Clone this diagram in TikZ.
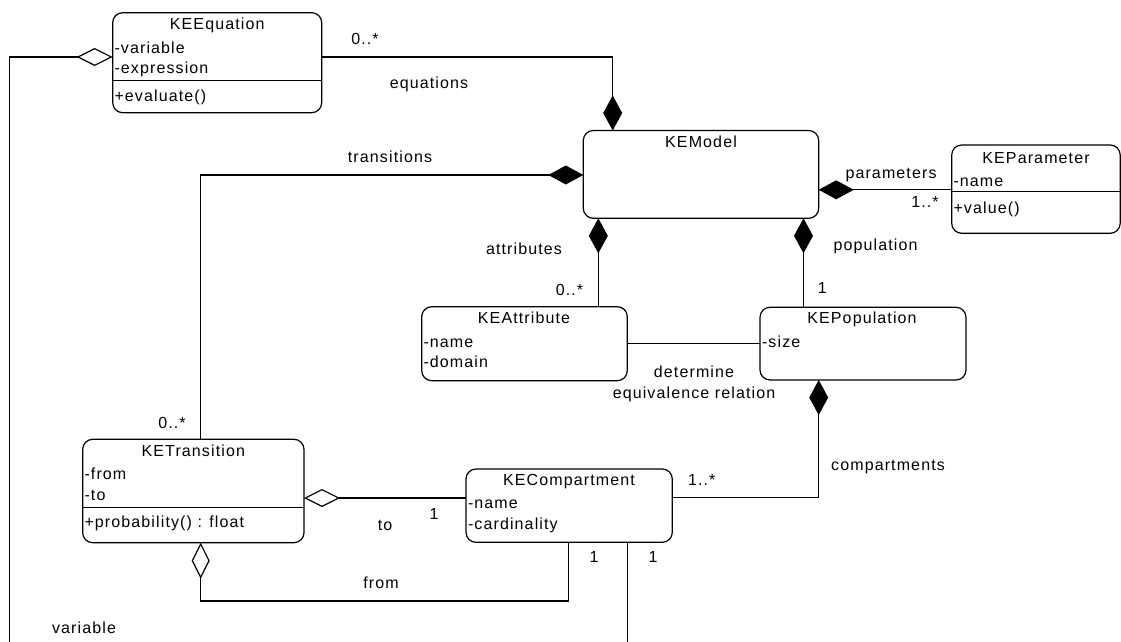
\documentclass[tikz,border=0pt]{standalone}
\usepackage{fontspec}
\setmainfont{Liberation Sans}[LetterSpace=7]
\usetikzlibrary{arrows.meta}
\tikzset{
  umlbox/.style={draw, line width=1.2pt, rounded corners=10pt, anchor=north west, inner sep=0pt, outer sep=0pt},
  conn/.style={line width=1.2pt},
  txt/.style={inner sep=0pt, outer sep=0pt, font=\fontsize{16}{19}\selectfont, text height=12.5pt, text depth=1.5pt, anchor=center},
  attrtxt/.style={txt, anchor=west},
  filld/.tip={Diamond[length=35pt,width=19pt]},
  hollowd/.tip={Diamond[open,length=36pt,width=18pt]}
}
\begin{document}
\begin{tikzpicture}[x=1pt,y=-1pt]
\useasboundingbox (0,0) rectangle (1121,642);
% boxes
\node[umlbox, minimum width=209pt, minimum height=100pt] (eq) at (112.7,12.7) {};
\node[umlbox, minimum width=235.4pt, minimum height=87.8pt] (model) at (583.3,130.5) {};
\node[umlbox, minimum width=168.5pt, minimum height=88.3pt] (param) at (951.7,145) {};
\node[umlbox, minimum width=205.6pt, minimum height=74pt] (attr) at (421.7,306.7) {};
\node[umlbox, minimum width=206pt, minimum height=72.7pt] (pop) at (760,307.3) {};
\node[umlbox, minimum width=206.3pt, minimum height=73.3pt] (comp) at (466,469) {};
\node[umlbox, minimum width=221.3pt, minimum height=103.4pt] (trans) at (82.7,439.3) {};
% separators
\draw[conn] (eq.west |- 0,80.3) -- (eq.east |- 0,80.3);
\draw[conn] (param.west |- 0,191.7) -- (param.east |- 0,191.7);
\draw[conn] (trans.west |- 0,507.7) -- (trans.east |- 0,507.7);
% titles
\node[txt] (eqT) at (217.2,24) {KEEquation};
\node[txt] (modelT) at (701,141.7) {KEModel};
\node[txt] (paramT) at (1036,158.3) {KEParameter};
\node[txt] (attrT) at (524,318.3) {KEAttribute};
\node[txt] (popT) at (862,318.3) {KEPopulation};
\node[txt] (compT) at (569,480) {KECompartment};
\node[txt] (transT) at (193.3,450.7) {KETransition};
% members
\node[attrtxt] (eqA1) at (114.5,47.7) {-variable};
\node[attrtxt] (eqA2) at (114.5,68) {-expression};
\node[attrtxt] (eqM1) at (114.5,95.7) {+evaluate()};
\node[attrtxt] (paramA1) at (953.5,180.7) {-name};
\node[attrtxt] (paramM1) at (953.5,207.7) {+value()};
\node[attrtxt] (attrA1) at (423.5,341.7) {-name};
\node[attrtxt] (attrA2) at (423.5,361.7) {-domain};
\node[attrtxt] (popA1) at (762,342.3) {-size};
\node[attrtxt] (compA1) at (468,503.3) {-name};
\node[attrtxt] (compA2) at (468,524) {-cardinality};
\node[attrtxt] (transA1) at (84.5,474.3) {-from};
\node[attrtxt] (transA2) at (84.5,495) {-to};
\node[attrtxt] (transM1) at (84.5,521.7) {+probability() : float};
% free ends
\coordinate (varEnd) at (9.8,645);
\coordinate (compEnd) at (627.3,645);
% connectors
\draw[conn, -{filld}] (eq.east |- 0,57) -| (model.north -| 612.7,0);
\draw[conn, {hollowd}-] (eq.west |- 0,57) -| (varEnd);
\draw[conn, {filld}-] (model.west |- 0,175) -| (trans.north -| 200.7,0);
\draw[conn, {filld}-] (model.south -| 598.3,0) -- (attr.north -| 598.3,0);
\draw[conn, {filld}-] (model.south -| 803.5,0) -- (pop.north -| 803.5,0);
\draw[conn, {filld}-] (model.east |- 0,189.8) -- (param.west |- 0,189.8);
\draw[conn] (attr.east |- 0,343.2) -- (pop.west |- 0,343.2);
\draw[conn, {filld}-] (pop.south -| 818.7,0) |- (comp.east |- 0,497.7);
\draw[conn, {hollowd}-] (trans.east |- 0,498) -- (comp.west |- 0,498);
\draw[conn, {hollowd}-] (trans.south -| 200.7,0) -- ++(0,58.3) -| (comp.south -| 568.7,0);
\draw[conn] (comp.south -| 627.3,0) -- (compEnd);
% labels
\node[txt] (l1) at (365,39) {0..*};
\node[txt] (l2) at (429,83) {equations};
\node[txt] (l3) at (390,157) {transitions};
\node[txt] (l4) at (891,173) {parameters};
\node[txt] (l5) at (925,202) {1..*};
\node[txt] (l6) at (524,249) {attributes};
\node[txt] (l7) at (569.5,290) {0..*};
\node[txt] (l8) at (875.5,245) {population};
\node[txt] (l9) at (822.3,288.3) {1};
\node[txt] (l10) at (694,371.7) {determine};
\node[txt] (l11) at (694,392.7) {equivalence relation};
\node[txt] (l12) at (888,465) {compartments};
\node[txt] (l13) at (701.7,480) {1..*};
\node[txt] (l14) at (172,422.7) {0..*};
\node[txt] (l15) at (385,525) {to};
\node[txt] (l16) at (434,514) {1};
\node[txt] (l17) at (381,583.3) {from};
\node[txt] (l18) at (594,557) {1};
\node[txt] (l19) at (653,557) {1};
\node[txt] (l20) at (84,627.7) {variable};
\end{tikzpicture}
\end{document}
